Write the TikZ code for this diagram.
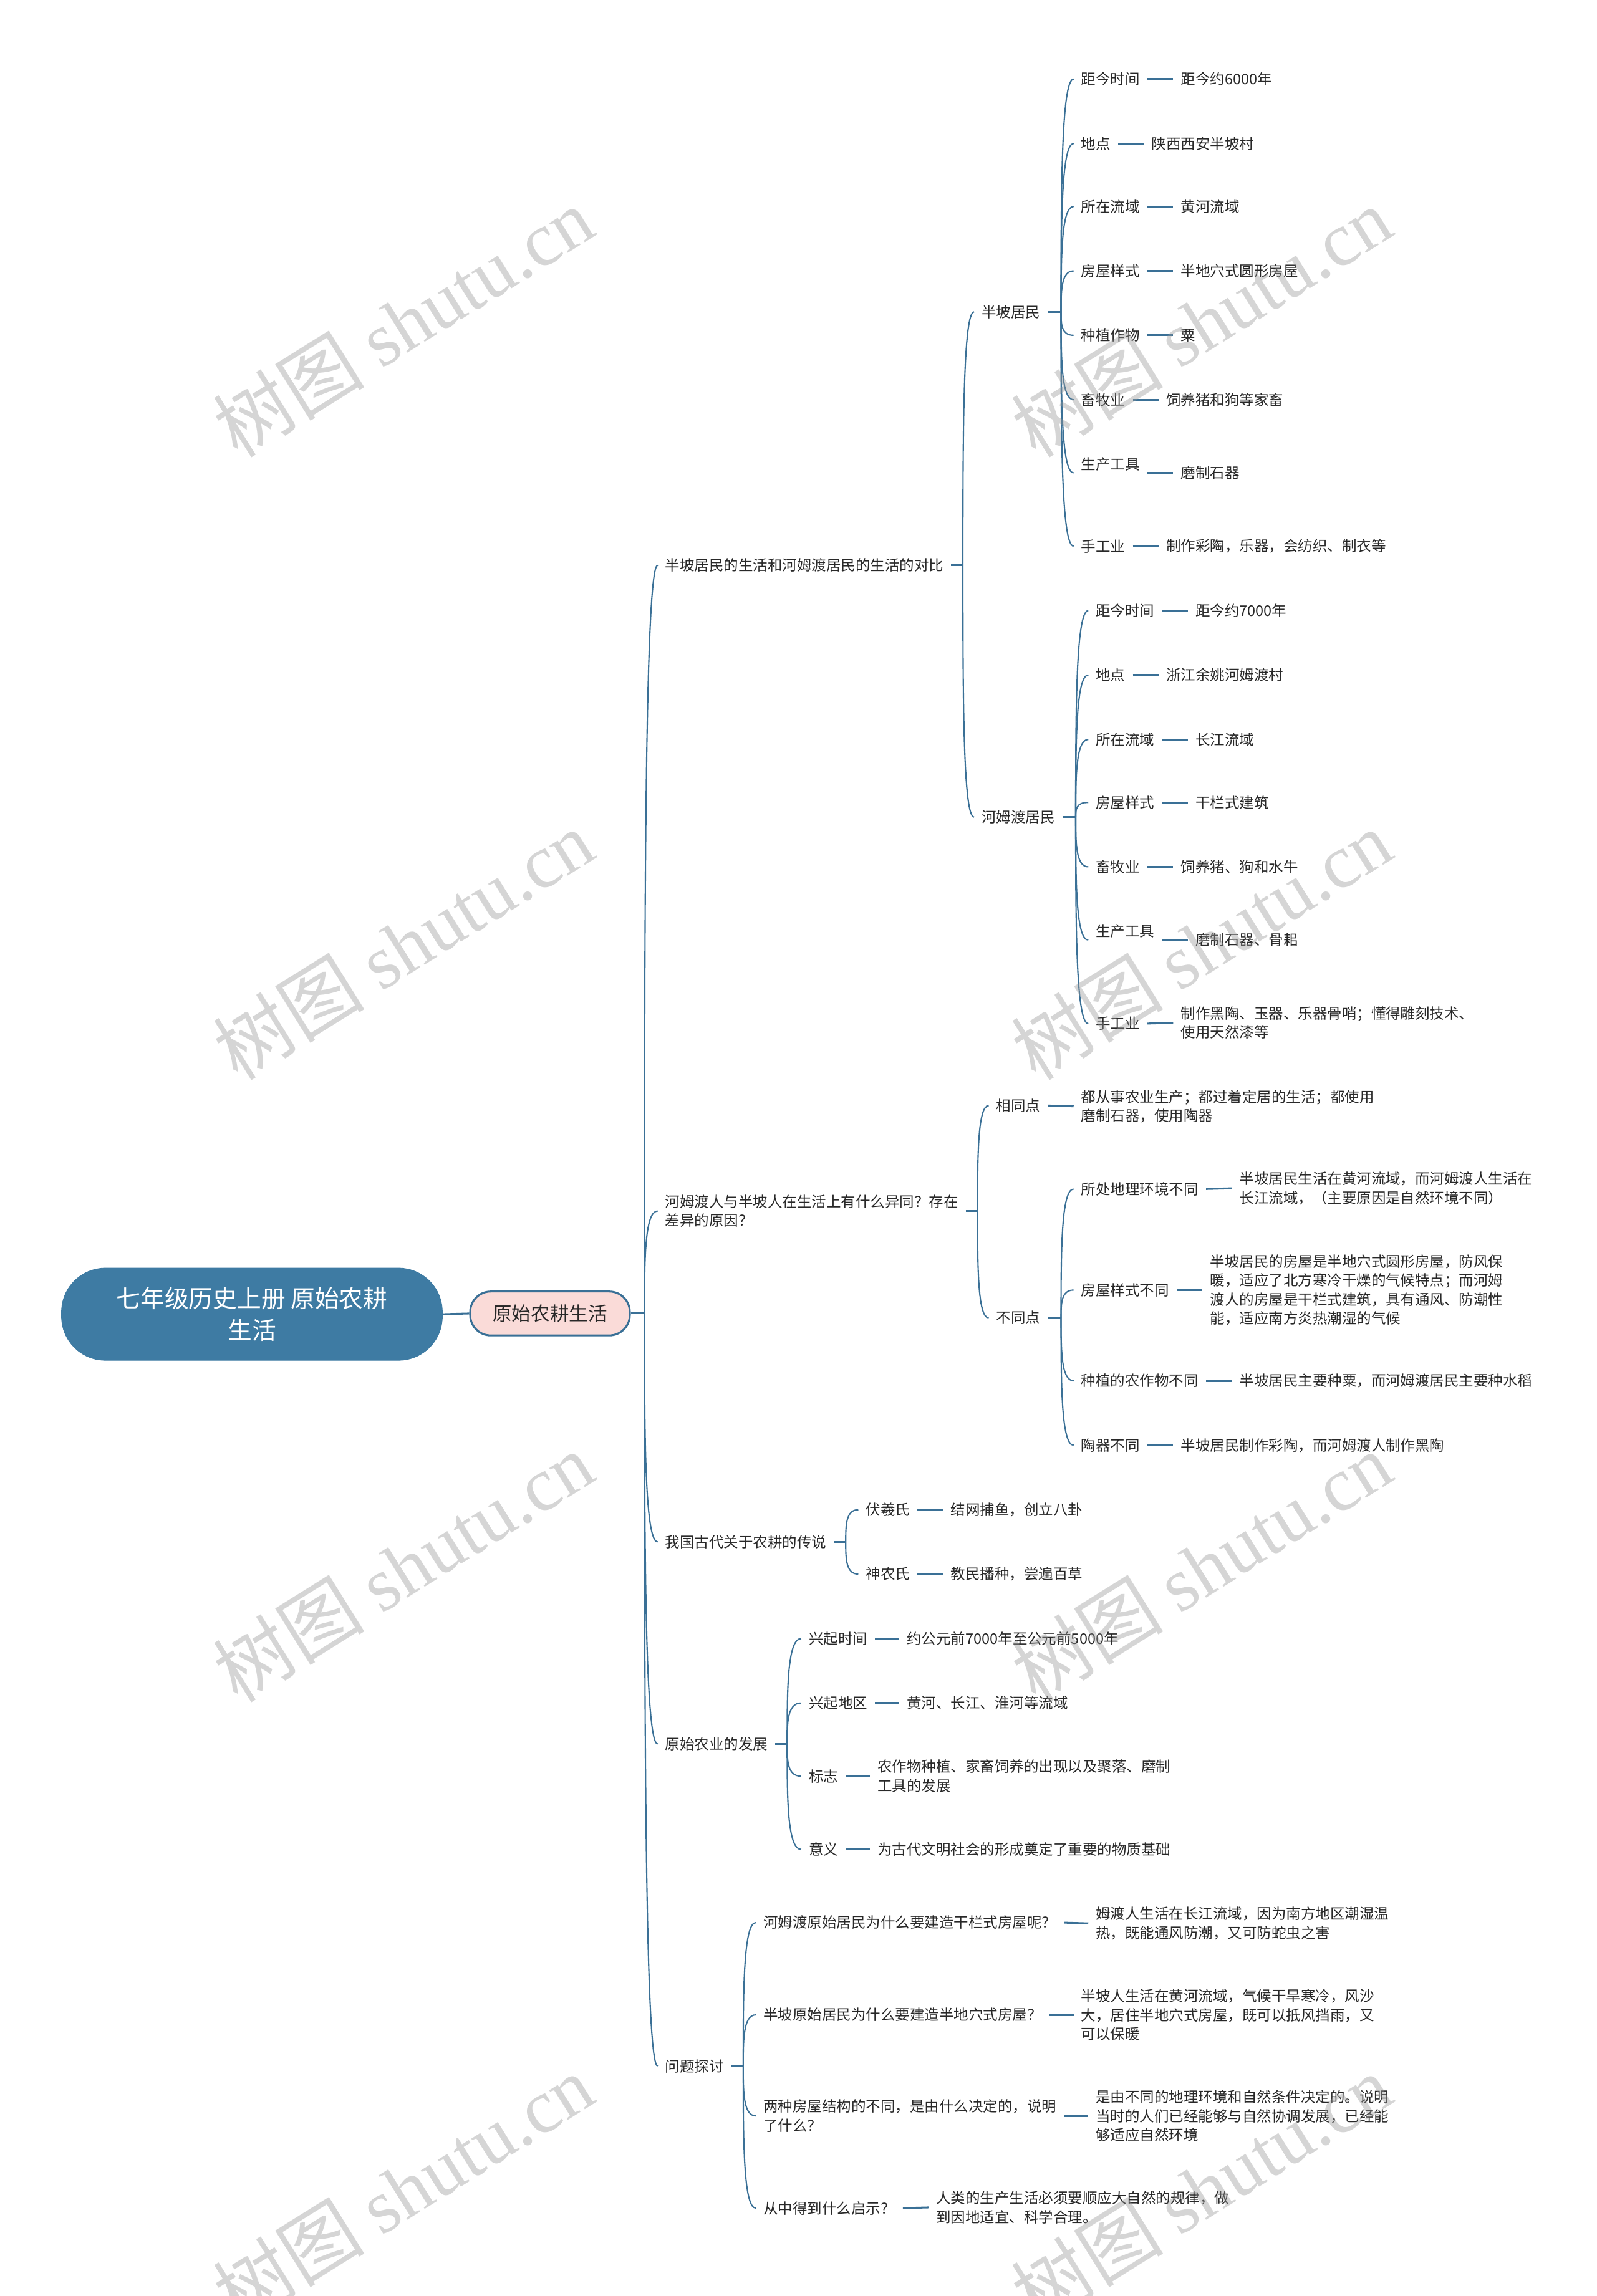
\documentclass[tikz,border=0pt]{standalone}
\usepackage{fontspec}
\setmainfont{Noto Sans CJK SC}
\newfontfamily\wmserif{Liberation Serif}
\usetikzlibrary{calc}
\definecolor{lnc}{RGB}{58,112,150}
\definecolor{rootc}{RGB}{62,123,163}
\definecolor{pinkc}{RGB}{250,219,216}
\definecolor{txtc}{RGB}{40,40,40}
\definecolor{wmc}{RGB}{150,150,150}
\newcommand\mmcurve[2]{\draw[conn] (#1) .. controls ($(#1)!0.5!(#1 |- #2)$) and (#1 |- #2) .. (#2);}
\tikzset{
  lbl/.style={anchor=west, inner xsep=5pt, inner ysep=2pt, font=\fontsize{10}{13}\selectfont, text=txtc, align=left},
  conn/.style={draw=lnc, line width=0.9pt},
  dsh/.style={draw=lnc, line width=1.3pt},
  wm/.style={text=wmc, text opacity=0.4, rotate=32, inner sep=0pt}
}
\begin{document}
\begin{tikzpicture}[x=1pt,y=-1pt]
\useasboundingbox (0,0) rectangle (1090,1568);

% root and level 1
\node[fill=rootc, draw=rootc, rounded corners=30pt, minimum width=260pt, minimum height=63pt, text=white, align=center, font=\fontsize{16.5}{22}\selectfont] (root) at (172,897.5) {七年级历史上册 原始农耕\\生活};
\node[fill=pinkc, draw=lnc, line width=1.3pt, rounded corners=14pt, minimum width=109pt, minimum height=30pt, text=txtc, font=\fontsize{13}{15}\selectfont] (l1) at (375.5,897) {原始农耕生活};
\draw[dsh] (root.east) -- (l1.west);
\coordinate (fT) at (440,897);
\draw[dsh] (l1.east) -- (fT);

% level 2
\node[lbl] (A) at (449,386) {半坡居民的生活和河姆渡居民的生活的对比};
\node[lbl] (B) at (449,827) {河姆渡人与半坡人在生活上有什么异同？存在\\差异的原因？};
\node[lbl] (C) at (449,1053) {我国古代关于农耕的传说};
\node[lbl] (D) at (449,1191) {原始农业的发展};
\node[lbl] (E) at (449,1411) {问题探讨};
\foreach \n in {A,B,C,D,E} {\mmcurve{fT}{\n.west}}

% ---------- group A
\coordinate (fA) at ([xshift=8pt]A.east);
\draw[dsh] (A.east) -- (fA);
\node[lbl] (P) at (665,213) {半坡居民};
\node[lbl] (H) at (665,558) {河姆渡居民};
\mmcurve{fA}{P.west}
\mmcurve{fA}{H.west}

\coordinate (fP) at ([xshift=9pt]P.east);
\draw[dsh] (P.east) -- (fP);
\node[lbl] (p1) at (733,54) {距今时间};
\node[lbl] (p1v) at (801,54) {距今约6000年};
\node[lbl] (p2) at (733,98) {地点};
\node[lbl] (p2v) at (781,98) {陕西西安半坡村};
\node[lbl] (p3) at (733,141) {所在流域};
\node[lbl] (p3v) at (801,141) {黄河流域};
\node[lbl] (p4) at (733,185) {房屋样式};
\node[lbl] (p4v) at (801,185) {半地穴式圆形房屋};
\node[lbl] (p5) at (733,229) {种植作物};
\node[lbl] (p5v) at (801,229) {粟};
\node[lbl] (p6) at (733,273) {畜牧业};
\node[lbl] (p6v) at (791,273) {饲养猪和狗等家畜};
\node[lbl] (p7) at (733,317) {生产工具};
\node[lbl] (p7v) at (801,323) {磨制石器};
\node[lbl] (p8) at (733,373) {手工业};
\node[lbl] (p8v) at (791,373) {制作彩陶，乐器，会纺织、制衣等};
\foreach \n in {p1,p2,p3,p4,p5,p6,p8} {\mmcurve{fP}{\n.west} \draw[dsh] (\n.east) -- (\n v.west);}
\mmcurve{fP}{p7.west |- p7v.west}
\draw[dsh] (p7.east |- p7v.west) -- (p7v.west);

\coordinate (fH) at ([xshift=9pt]H.east);
\draw[dsh] (H.east) -- (fH);
\node[lbl] (h1) at (743,417) {距今时间};
\node[lbl] (h1v) at (811,417) {距今约7000年};
\node[lbl] (h2) at (743,461) {地点};
\node[lbl] (h2v) at (791,461) {浙江余姚河姆渡村};
\node[lbl] (h3) at (743,505) {所在流域};
\node[lbl] (h3v) at (811,505) {长江流域};
\node[lbl] (h4) at (743,548) {房屋样式};
\node[lbl] (h4v) at (811,548) {干栏式建筑};
\node[lbl] (h5) at (743,592) {畜牧业};
\node[lbl] (h5v) at (801,592) {饲养猪、狗和水牛};
\node[lbl] (h6) at (743,636) {生产工具};
\node[lbl] (h6v) at (811,642) {磨制石器、骨耜};
\node[lbl] (h7) at (743,699) {手工业};
\node[lbl] (h7v) at (801,698.5) {制作黑陶、玉器、乐器骨哨；懂得雕刻技术、\\使用天然漆等};
\foreach \n in {h1,h2,h3,h4,h5,h7} {\mmcurve{fH}{\n.west} \draw[dsh] (\n.east) -- (\n v.west);}
\mmcurve{fH}{h6.west |- h6v.west}
\draw[dsh] (h6.east |- h6v.west) -- (h6v.west);

% ---------- group B
\coordinate (fB) at ([xshift=8pt]B.east);
\draw[dsh] (B.east) -- (fB);
\node[lbl] (S) at (675,755) {相同点};
\node[lbl] (Sv) at (733,755.5) {都从事农业生产；都过着定居的生活；都使用\\磨制石器，使用陶器};
\node[lbl] (N) at (675,900) {不同点};
\mmcurve{fB}{S.west}
\mmcurve{fB}{N.west}
\draw[dsh] (S.east) -- (Sv.west);

\coordinate (fN) at ([xshift=9pt]N.east);
\draw[dsh] (N.east) -- (fN);
\node[lbl] (n1) at (733,812) {所处地理环境不同};
\node[lbl] (n1v) at (841,811.5) {半坡居民生活在黄河流域，而河姆渡人生活在\\长江流域，（主要原因是自然环境不同）};
\node[lbl] (n2) at (733,881) {房屋样式不同};
\node[lbl] (n2v) at (821,881) {半坡居民的房屋是半地穴式圆形房屋，防风保\\暖，适应了北方寒冷干燥的气候特点；而河姆\\渡人的房屋是干栏式建筑，具有通风、防潮性\\能，适应南方炎热潮湿的气候};
\node[lbl] (n3) at (733,943) {种植的农作物不同};
\node[lbl] (n3v) at (841,943) {半坡居民主要种粟，而河姆渡居民主要种水稻};
\node[lbl] (n4) at (733,987) {陶器不同};
\node[lbl] (n4v) at (801,987) {半坡居民制作彩陶，而河姆渡人制作黑陶};
\foreach \n in {n1,n2,n3,n4} {\mmcurve{fN}{\n.west} \draw[dsh] (\n.east) -- (\n v.west);}

% ---------- group C
\coordinate (fC) at ([xshift=8pt]C.east);
\draw[dsh] (C.east) -- (fC);
\node[lbl] (c1) at (586,1031) {伏羲氏};
\node[lbl] (c1v) at (644,1031) {结网捕鱼，创立八卦};
\node[lbl] (c2) at (586,1075) {神农氏};
\node[lbl] (c2v) at (644,1075) {教民播种，尝遍百草};
\foreach \n in {c1,c2} {\mmcurve{fC}{\n.west} \draw[dsh] (\n.east) -- (\n v.west);}

% ---------- group D
\coordinate (fD) at ([xshift=8pt]D.east);
\draw[dsh] (D.east) -- (fD);
\node[lbl] (d1) at (547,1119) {兴起时间};
\node[lbl] (d1v) at (614,1119) {约公元前7000年至公元前5000年};
\node[lbl] (d2) at (547,1163) {兴起地区};
\node[lbl] (d2v) at (614,1163) {黄河、长江、淮河等流域};
\node[lbl] (d3) at (547,1213) {标志};
\node[lbl] (d3v) at (594,1213) {农作物种植、家畜饲养的出现以及聚落、磨制\\工具的发展};
\node[lbl] (d4) at (547,1263) {意义};
\node[lbl] (d4v) at (594,1263) {为古代文明社会的形成奠定了重要的物质基础};
\foreach \n in {d1,d2,d3,d4} {\mmcurve{fD}{\n.west} \draw[dsh] (\n.east) -- (\n v.west);}

% ---------- group E
\coordinate (fE) at ([xshift=8pt]E.east);
\draw[dsh] (E.east) -- (fE);
\node[lbl] (e1) at (516,1313) {河姆渡原始居民为什么要建造干栏式房屋呢？};
\node[lbl] (e1v) at (743,1313.5) {姆渡人生活在长江流域，因为南方地区潮湿温\\热，既能通风防潮，又可防蛇虫之害};
\node[lbl] (e2) at (516,1376) {半坡原始居民为什么要建造半地穴式房屋？};
\node[lbl] (e2v) at (733,1376) {半坡人生活在黄河流域，气候干旱寒冷，风沙\\大，居住半地穴式房屋，既可以抵风挡雨，又\\可以保暖};
\node[lbl] (e3) at (516,1445) {两种房屋结构的不同，是由什么决定的，说明\\了什么？};
\node[lbl] (e3v) at (743,1445) {是由不同的地理环境和自然条件决定的。说明\\当时的人们已经能够与自然协调发展，已经能\\够适应自然环境};
\node[lbl] (e4) at (516,1508) {从中得到什么启示？};
\node[lbl] (e4v) at (634,1507.5) {人类的生产生活必须要顺应大自然的规律，做\\到因地适宜、科学合理。};
\foreach \n in {e1,e2,e3,e4} {\mmcurve{fE}{\n.west} \draw[dsh] (\n.east) -- (\n v.west);}

% ---------- watermarks
\foreach \wx/\wy [count=\i] in {275/220, 820/220, 275/645, 820/645, 275/1070, 820/1070, 275/1495, 820/1495} {
  \node[wm] (wm\i) at (\wx,\wy) {\fontsize{52}{52}\selectfont 树图 {\wmserif shutu.cn}};
}
\end{tikzpicture}
\end{document}
